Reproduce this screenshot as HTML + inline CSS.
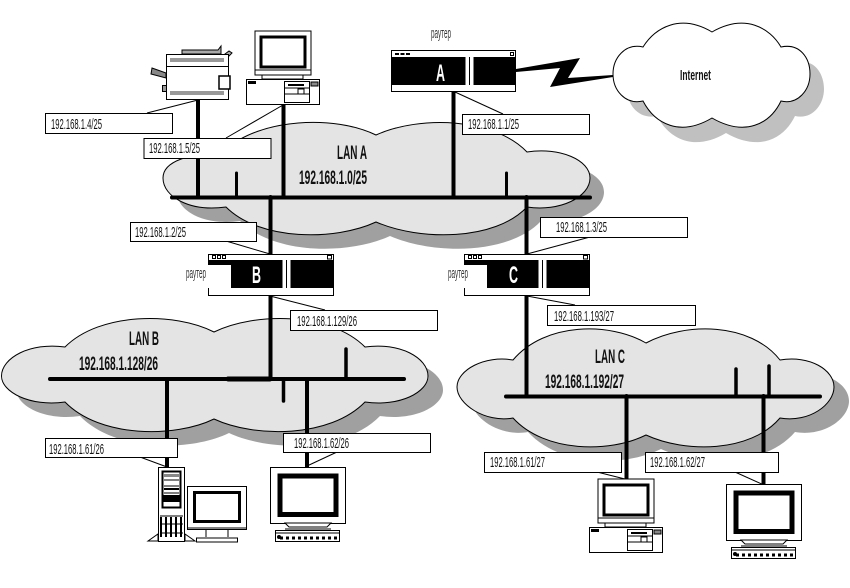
<!DOCTYPE html>
<html><head><meta charset="utf-8"><style>
html,body{margin:0;padding:0;background:#fff}
svg{display:block;filter:blur(0.3px)}
text{font-family:"Liberation Sans",sans-serif;fill:#111}
.l{font-size:15px}
.b{font-size:19px;font-weight:bold}
.r{font-size:15px;fill:#333}
.w{font-size:24px;font-weight:bold;fill:#fff}
</style></head><body>
<svg width="850" height="588" viewBox="0 0 850 588" xmlns="http://www.w3.org/2000/svg">
<defs>
<path id="ci" d="M643,47 C655,28 680,13 712,32 C745,13 770,28 781,47 C800,43 810,58 810,74 C810,90 798,105 781,101 C770,124 745,137 712,118 C680,137 655,124 643,101 C625,105 613,90 613,74 C613,58 625,43 643,47Z"/>
<path id="ca" d="M225,150 C260,118 335,115 376,135 C420,115 495,118 527,152 C560,147 590,160 590,178 C590,197 560,212 527,207 C495,241 420,241 376,222 C335,241 260,241 226,207 C190,212 163,197 163,178 C163,160 190,155 225,150Z"/>
<path id="cb" d="M65,347 C100,312 175,312 214,332 C255,312 330,312 365,347 C400,342 428,358 428,376 C428,392 400,407 365,402 C330,438 255,438 214,419 C175,438 100,438 65,402 C30,407 1.5,392 1.5,376 C1.5,358 30,342 65,347Z"/>
<path id="cc" d="M513,360 C545,322 610,322 646,343 C685,322 750,322 780,360 C810,355 834,370 834,387 C834,404 810,423 780,418 C750,453 685,453 646,435 C610,453 545,453 513,418 C485,423 457,404 457,387 C457,370 485,355 513,360Z"/>
<g id="pc">
<rect x="255" y="31" width="56" height="44" fill="#fff" stroke="#000"/>
<rect x="261" y="37" width="44" height="30" fill="#fff" stroke="#000" stroke-width="3"/>
<path d="M255,70 H311" stroke="#000" stroke-width="1"/>
<rect x="262" y="75" width="41" height="4" fill="#fff" stroke="#000"/>
<rect x="246.500" y="79.500" width="73" height="25" fill="#fff" stroke="#000"/>
<rect x="248" y="81" width="8" height="3" fill="#000"/>
<rect x="284.500" y="81.500" width="25" height="21" fill="#fff" stroke="#000"/>
<rect x="288" y="84" width="16" height="2" fill="#000"/>
<path d="M285,88 H309 M285,94 H309" stroke="#000"/>
<rect x="298" y="89" width="6" height="5" fill="#fff" stroke="#000"/>
<rect x="311" y="82" width="7" height="4" fill="#888" stroke="#000"/>
</g>
<g id="mon">
<rect x="270.500" y="467.500" width="75" height="56" fill="#fff" stroke="#000"/>
<rect x="280" y="476" width="56" height="38.500" fill="#fff" stroke="#000" stroke-width="5"/>
<path d="M285,523 L289,527 H327 L331,523Z" fill="#fff" stroke="#000"/>
<path d="M285,529 H331" stroke="#000"/>
<rect x="275.500" y="530.500" width="64" height="11" fill="#fff" stroke="#000"/>
<path d="M276,533 H339" stroke="#000"/>
<path d="M280,538 H340" stroke="#000" stroke-width="3" stroke-dasharray="3 3"/>
<circle cx="279" cy="537" r="2" fill="#000"/>
</g>
</defs>

<use href="#ci" transform="translate(14,15)" fill="#c0c0c0"/>
<use href="#ca" transform="translate(14,14)" fill="#a0a0a0"/>
<use href="#cb" transform="translate(15,14)" fill="#a0a0a0"/>
<use href="#cc" transform="translate(15,14)" fill="#a0a0a0"/>
<use href="#ci" fill="#fff" stroke="#000" stroke-width="1"/>
<use href="#ca" fill="#e4e4e4" stroke="#000" stroke-width="1"/>
<use href="#cb" fill="#e4e4e4" stroke="#000" stroke-width="1"/>
<use href="#cc" fill="#e4e4e4" stroke="#000" stroke-width="1"/>

<polygon points="516,69 580,58 568,78 613,75 613,77 550,87 560,68 516,72" fill="#000"/>

<g stroke="#000" fill="none" stroke-linecap="round">
<path stroke-width="4" d="M172,197.500 H590 M198,98 V197 M283.500,105 V197 M453.500,92 V197 M270.500,197 V254 M526.500,197 V254"/>
<path stroke-width="3" d="M236.500,173 V197 M506.500,173 V197"/>
<path stroke-width="4" d="M50,379 H404 M270.500,296 V379 M167,379 V467 M307,379 V467"/>
<path stroke-width="5" d="M228,379 H270"/>
<path stroke-width="3.500" d="M346,349 V379 M283.500,379 V401"/>
<path stroke-width="4" d="M506,396.500 H820 M526.500,296 V396 M626.500,396 V479 M763.500,396 V485"/>
<path stroke-width="3.500" d="M736,369 V396 M769,366 V396"/>
</g>

<g stroke="#000" stroke-width="1">
<path d="M198,100 L147,113 M283,105 L226,138 M455,92 L503,114 M270,254 L226,241 M527,254 L590,237 M270,296 L325,310 M527,296 L575,305 M167,467 L140,457 M307,466 L337,452 M625,479 L597,472 M764,485 L735,472"/>
</g>

<!-- Routers -->
<g id="ra">
<rect x="391.500" y="50.500" width="124" height="41" fill="#fff" stroke="#000"/>
<rect x="392" y="57" width="123" height="28" fill="#000"/>
<rect x="465.500" y="51" width="3.500" height="40" fill="#fff"/>
<rect x="470" y="51" width="3.500" height="40" fill="#fff"/>
<path d="M395,54 H411" stroke="#000" stroke-width="2" stroke-dasharray="4 1.500"/>
<rect x="510.500" y="52.500" width="3" height="3" fill="#fff" stroke="#000"/>
</g>
<g id="rb">
<rect x="208.500" y="254.500" width="125" height="41" fill="#fff" stroke="#000"/>
<rect x="209" y="260" width="124" height="28" fill="#000"/>
<rect x="208" y="265" width="23" height="23" fill="#fff"/>
<rect x="282.500" y="255" width="3.500" height="40" fill="#fff"/>
<rect x="287" y="255" width="3.500" height="40" fill="#fff"/>
<path d="M212.500,255.500 h3 v3 h-3z M217.500,255.500 h3 v3 h-3z M222.500,255.500 h3 v3 h-3z" fill="#fff" stroke="#000"/>
<rect x="327.500" y="255.500" width="4" height="3.500" fill="#fff" stroke="#000"/>
</g>
<use href="#rb" transform="translate(256,0)"/>

<!-- Printer -->
<path d="M182,54 V50 H218 L221,46 V54Z" fill="#aaa" stroke="#000"/>
<path d="M225,54 L229,51 L232,53 L229,56Z" fill="#aaa" stroke="#000"/>
<path d="M152,68 L166,73 V78 L151,74Z" fill="#888" stroke="#000"/>
<rect x="162.500" y="85.500" width="4" height="6" fill="#999" stroke="#000"/>
<rect x="166.500" y="54.500" width="62" height="45" fill="#fff" stroke="#000"/>
<rect x="170" y="58" width="54" height="4" fill="#999"/>
<rect x="170" y="91" width="54" height="4" fill="#999"/>
<path d="M167,66.500 H228" stroke="#000"/>
<rect x="219" y="76" width="11" height="13" fill="#fff" stroke="#000" stroke-width="1.500"/>

<use href="#pc"/>
<use href="#pc" transform="translate(343,448)"/>
<use href="#mon"/>
<use href="#mon" transform="translate(456,17)"/>

<!-- Tower -->
<path d="M148,541 L158,534 V541Z M185,534 L195,541 H185Z" fill="#fff" stroke="#000"/>
<rect x="158.500" y="467.500" width="26" height="74" fill="#fff" stroke="#000"/>
<rect x="162.500" y="471.500" width="18" height="36" fill="#fff" stroke="#000" stroke-width="2"/>
<rect x="164" y="474" width="15" height="3" fill="#888"/>
<path d="M164,480 H179 M164,486 H179 M164,493 H179" stroke="#000"/>
<rect x="164" y="488" width="15" height="2" fill="#000"/>
<rect x="163" y="495" width="17" height="7" fill="#000"/>
<path d="M160,516 H183 M160,524 H183 M160,533 H183" stroke="#000"/>
<path d="M161,517 V537 M166,517 V537 M171,517 V537 M176,517 V537 M181,517 V537" stroke="#000" stroke-width="2"/>
<!-- Side monitor -->
<rect x="187.500" y="486.500" width="59" height="43" fill="#fff" stroke="#000"/>
<rect x="194.500" y="492.500" width="45" height="29" fill="#fff" stroke="#000" stroke-width="3"/>
<path d="M187,528 H247" stroke="#000"/>
<path d="M206,530 V537 M228,530 V537" stroke="#000"/>
<rect x="196.500" y="538" width="41" height="4" fill="#fff" stroke="#000"/>

<!-- Labels -->
<g fill="#fff" stroke="#000" stroke-width="1">
<rect x="45.500" y="113.500" width="127" height="20"/>
<rect x="144" y="138.500" width="127" height="20"/>
<rect x="462.500" y="114.500" width="127" height="20"/>
<rect x="130.500" y="222.500" width="126" height="19"/>
<rect x="540.500" y="217.500" width="147" height="20"/>
<rect x="290.500" y="310.500" width="147" height="20"/>
<rect x="547.500" y="305.500" width="148" height="20"/>
<rect x="45.500" y="438.500" width="132" height="19"/>
<rect x="283.500" y="433.500" width="147" height="19"/>
<rect x="484.500" y="452.500" width="137" height="20"/>
<rect x="645.500" y="452.500" width="133" height="20"/>
</g>
<g class="l">
<text class="l" x="51" y="129" textLength="51" lengthAdjust="spacingAndGlyphs">192.168.1.4/25</text>
<text class="l" x="149" y="153" textLength="51" lengthAdjust="spacingAndGlyphs">192.168.1.5/25</text>
<text class="l" x="468" y="129" textLength="51" lengthAdjust="spacingAndGlyphs">192.168.1.1/25</text>
<text class="l" x="135" y="237" textLength="51" lengthAdjust="spacingAndGlyphs">192.168.1.2/25</text>
<text class="l" x="556" y="232" textLength="51" lengthAdjust="spacingAndGlyphs">192.168.1.3/25</text>
<text class="l" x="297" y="326" textLength="60" lengthAdjust="spacingAndGlyphs">192.168.1.129/26</text>
<text class="l" x="554" y="321" textLength="60" lengthAdjust="spacingAndGlyphs">192.168.1.193/27</text>
<text class="l" x="49" y="454" textLength="55" lengthAdjust="spacingAndGlyphs">192.168.1.61/26</text>
<text class="l" x="294" y="448" textLength="55" lengthAdjust="spacingAndGlyphs">192.168.1.62/26</text>
<text class="l" x="490" y="467" textLength="55" lengthAdjust="spacingAndGlyphs">192.168.1.61/27</text>
<text class="l" x="650" y="467" textLength="55" lengthAdjust="spacingAndGlyphs">192.168.1.62/27</text>
</g>
<text class="b" x="337" y="159" textLength="30" lengthAdjust="spacingAndGlyphs">LAN A</text>
<text class="b" x="299" y="184" textLength="68" lengthAdjust="spacingAndGlyphs">192.168.1.0/25</text>
<text class="b" x="129" y="345" textLength="30" lengthAdjust="spacingAndGlyphs">LAN B</text>
<text class="b" x="79" y="370" textLength="79" lengthAdjust="spacingAndGlyphs">192.168.1.128/26</text>
<text class="b" x="595" y="363" textLength="30" lengthAdjust="spacingAndGlyphs">LAN C</text>
<text class="b" x="545" y="388" textLength="79" lengthAdjust="spacingAndGlyphs">192.168.1.192/27</text>
<text x="680" y="80" font-size="15" font-weight="bold" textLength="31" lengthAdjust="spacingAndGlyphs">Internet</text>
<text class="w" x="436" y="81" textLength="9" lengthAdjust="spacingAndGlyphs">A</text>
<text class="w" x="252" y="283" textLength="9" lengthAdjust="spacingAndGlyphs">B</text>
<text class="w" x="509" y="283" textLength="9" lengthAdjust="spacingAndGlyphs">C</text>
<text class="r" x="431" y="38" textLength="20" lengthAdjust="spacingAndGlyphs">раутер</text>
<text class="r" x="186" y="278" textLength="20" lengthAdjust="spacingAndGlyphs">раутер</text>
<text class="r" x="448" y="278" textLength="20" lengthAdjust="spacingAndGlyphs">раутер</text>
</svg>
</body></html>
